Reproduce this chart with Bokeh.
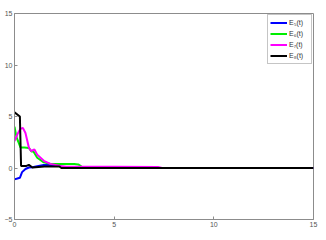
from bokeh.plotting import figure
from bokeh.models import Range1d, FixedTicker, Legend, LegendItem, Label
from bokeh.embed import file_html
from bokeh.resources import INLINE

# Data
t5 = [0, 0.1, 0.27, 0.38, 0.55, 0.72, 0.9, 1.2, 1.47, 2.0, 2.25, 2.35, 3.0, 4.0, 5.0, 6.0, 6.2, 15]
e5 = [-1.1, -1.05, -0.95, -0.4, -0.1, 0.05, 0.08, 0.2, 0.3, 0.3, 0.28, 0.1, 0.1, 0.1, 0.1, 0.08, 0.0, 0.0]

t6 = [0, 0.1, 0.3, 0.5, 0.72, 0.85, 0.95, 1.14, 1.47, 1.8, 2.3, 3.0, 3.2, 3.4, 5.0, 6.0, 6.2, 15]
e6 = [4.0, 3.0, 2.0, 2.0, 1.95, 1.6, 1.6, 1.0, 0.55, 0.4, 0.4, 0.38, 0.35, 0.1, 0.1, 0.08, 0.0, 0.0]

t7 = [0, 0.15, 0.3, 0.42, 0.55, 0.72, 0.83, 1.0, 1.14, 1.47, 1.8, 2.3, 2.6, 3.0, 5.0, 7.2, 7.4, 15]
e7 = [2.6, 3.3, 3.8, 3.9, 3.4, 2.0, 1.65, 1.8, 1.3, 0.7, 0.4, 0.2, 0.12, 0.12, 0.12, 0.1, 0.0, 0.0]

t8 = [0, 0.27, 0.33, 0.4, 0.6, 0.72, 0.9, 1.5, 2.25, 2.35, 15]
e8 = [5.4, 5.0, 0.2, 0.2, 0.2, 0.3, 0.05, 0.15, 0.15, 0.0, 0.0]

x_ticks = [0, 5, 10, 15]
y_ticks = [-5, 0, 5, 10, 15]
labels = ["E\u2085(t)", "E\u2086(t)", "E\u2087(t)", "E\u2088(t)"]
colors = ["#0000ff", "#00ee00", "#ff00ff", "#000000"]

p = figure(width=334, height=248, output_backend="svg", toolbar_location=None,
           x_range=Range1d(0, 15), y_range=Range1d(-5, 15),
           min_border_left=22, min_border_right=13, min_border_top=21, min_border_bottom=21)
p.styles = {"margin-left": "-8px", "margin-top": "-8px"}
p.background_fill_color = "white"
p.border_fill_color = "white"
p.grid.visible = False
p.outline_line_color = "#8c8c8c"
p.outline_line_width = 1

for ax in (p.xaxis, p.yaxis):
    ax.axis_line_color = "#8c8c8c"
    ax.major_tick_line_color = "#8c8c8c"
    ax.minor_tick_line_color = None
    ax.major_tick_in = 3
    ax.major_tick_out = 0
    ax.major_label_text_font = "Liberation Sans"
    ax.major_label_text_font_size = "7px"
    ax.major_label_text_color = "#555555"
    ax.major_label_standoff = 2
p.xaxis.ticker = FixedTicker(ticks=x_ticks)
p.yaxis.ticker = FixedTicker(ticks=y_ticks)

series = [(t5, e5), (t6, e6), (t7, e7), (t8, e8)]
items = []
for (tt, ee), c, lab in zip(series, colors, labels):
    r = p.line(tt, ee, line_color=c, line_width=2)
    items.append(LegendItem(label=lab, renderers=[r]))

leg = Legend(items=items, location="top_right")
leg.glyph_width = 17
leg.glyph_height = 11
leg.label_standoff = 2
leg.label_text_font = "Liberation Sans"
leg.label_text_font_size = "7px"
leg.label_text_color = "#333333"
leg.label_height = 11
leg.spacing = 0
leg.padding = 2
leg.margin = 1
leg.border_line_color = "#8c8c8c"
leg.border_line_width = 1
leg.background_fill_alpha = 1
p.add_layout(leg)

p.add_layout(Label(x=6.9, y=-6.3, text="t", text_font="Liberation Sans",
                   text_font_size="8px", text_color="#222222",
                   text_align="center", text_baseline="middle"))

open("out.html", "w").write(file_html(p, INLINE))
